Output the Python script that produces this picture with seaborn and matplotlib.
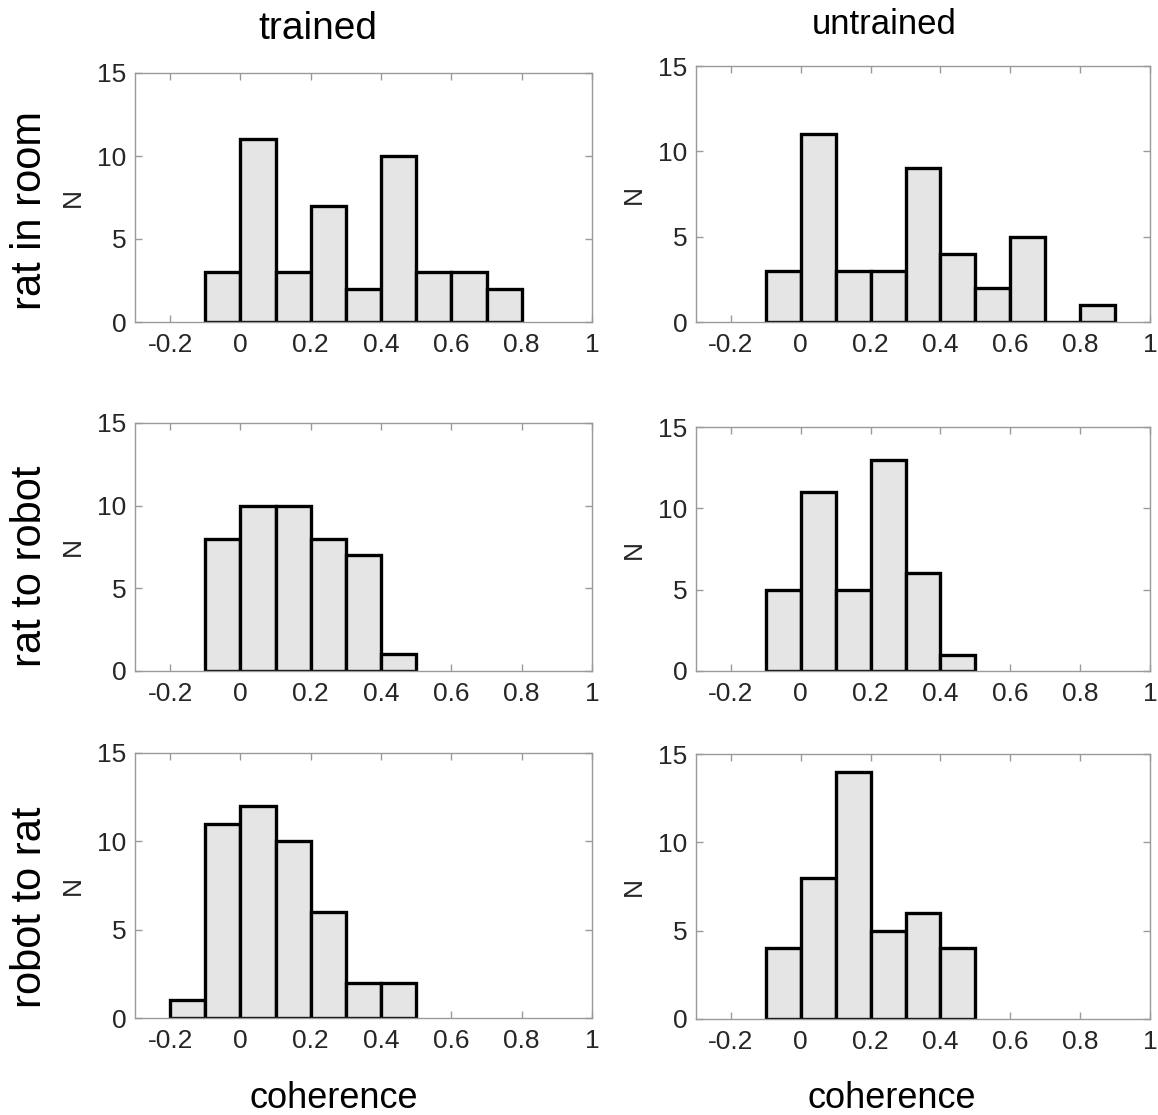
import matplotlib
matplotlib.use("Agg")
import matplotlib.pyplot as plt
import numpy as np
import pandas as pd
import seaborn as sns

sns.set_theme(style="white")
plt.rcParams["font.family"] = ["Liberation Sans", "DejaVu Sans"]

# Histogram counts (bin width 0.1), left bin edge given per panel
bin_width = 0.1

trained_room_start = -0.1
trained_room_counts = [3, 11, 3, 7, 2, 10, 3, 3, 2]

untrained_room_start = -0.1
untrained_room_counts = [3, 11, 3, 3, 9, 4, 2, 5, 0, 1]

trained_r2r_start = -0.1
trained_r2r_counts = [8, 10, 10, 8, 7, 1]

untrained_r2r_start = -0.1
untrained_r2r_counts = [5, 11, 5, 13, 6, 1]

trained_robot_start = -0.2
trained_robot_counts = [1, 11, 12, 10, 6, 2, 2]

untrained_robot_start = -0.1
untrained_robot_counts = [4, 8, 14, 5, 6, 4]

row_labels = ["rat in room", "rat to robot", "robot to rat"]
col_titles = ["trained", "untrained"]
x_ticks = [-0.2, 0, 0.2, 0.4, 0.6, 0.8, 1]
x_tick_labels = ["-0.2", "0", "0.2", "0.4", "0.6", "0.8", "1"]
y_ticks = [0, 5, 10, 15]

panels = [
    [(trained_room_start, trained_room_counts), (untrained_room_start, untrained_room_counts)],
    [(trained_r2r_start, trained_r2r_counts), (untrained_r2r_start, untrained_r2r_counts)],
    [(trained_robot_start, trained_robot_counts), (untrained_robot_start, untrained_robot_counts)],
]

W, H = 1158, 1115
fig = plt.figure(figsize=(W / 100, H / 100), dpi=100)

# axes boxes in pixels: (left, top, right, bottom)
boxes = [
    [(135, 73, 592, 322), (696, 66, 1150, 322)],
    [(135, 423, 592, 671), (696, 427, 1150, 671)],
    [(135, 753, 592, 1018), (696, 754, 1150, 1019)],
]

spine_gray = "#9a9a9a"
text_dark = "#262626"

for r in range(3):
    for c in range(2):
        l, t, rr, b = boxes[r][c]
        ax = fig.add_axes([l / W, 1 - b / H, (rr - l) / W, (b - t) / H])
        start, counts = panels[r][c]
        n = len(counts)
        edges = [round(start + bin_width * k, 3) for k in range(n + 1)]
        centers = [(edges[k] + edges[k + 1]) / 2 for k in range(n)]
        df = pd.DataFrame({"coherence": centers, "N": counts})
        sns.histplot(data=df, x="coherence", weights="N", bins=edges, ax=ax,
                     color="#e5e5e5", alpha=1, edgecolor="black", linewidth=2.4)
        ax.set_xlim(-0.3, 1.0)
        ax.set_ylim(0, 15)
        ax.set_xticks(x_ticks)
        ax.set_xticklabels(x_tick_labels)
        ax.set_yticks(y_ticks)
        ax.set_xlabel("")
        ax.set_ylabel("N", fontsize=19, color=text_dark, labelpad=9)
        ax.tick_params(axis="both", which="both", direction="in", length=5,
                       width=1, color=spine_gray, labelsize=19,
                       labelcolor=text_dark, top=True, right=True,
                       bottom=True, left=True)
        ax.tick_params(axis="x", pad=8)
        ax.tick_params(axis="y", pad=6)
        for s in ax.spines.values():
            s.set_visible(True)
            s.set_color(spine_gray)
            s.set_linewidth(1.0)
        ax.set_facecolor("white")

# column titles
fig.text(318 / W, 1 - 29 / H, col_titles[0], ha="center", va="center",
         fontsize=28, color="black")
fig.text(884 / W, 1 - 25 / H, col_titles[1], ha="center", va="center",
         fontsize=25, color="black")

# row labels
for lab, yc in zip(row_labels, [211, 566, 907]):
    fig.text(30 / W, 1 - yc / H, lab, ha="center", va="center",
             rotation=90, fontsize=30, color="black")

# x-axis labels on the bottom row
fig.text(334 / W, 1 - 1099 / H, "coherence", ha="center", va="center",
         fontsize=26, color="black")
fig.text(892 / W, 1 - 1098 / H, "coherence", ha="center", va="center",
         fontsize=26, color="black")

fig.savefig("out.png", dpi=100, facecolor="white")
